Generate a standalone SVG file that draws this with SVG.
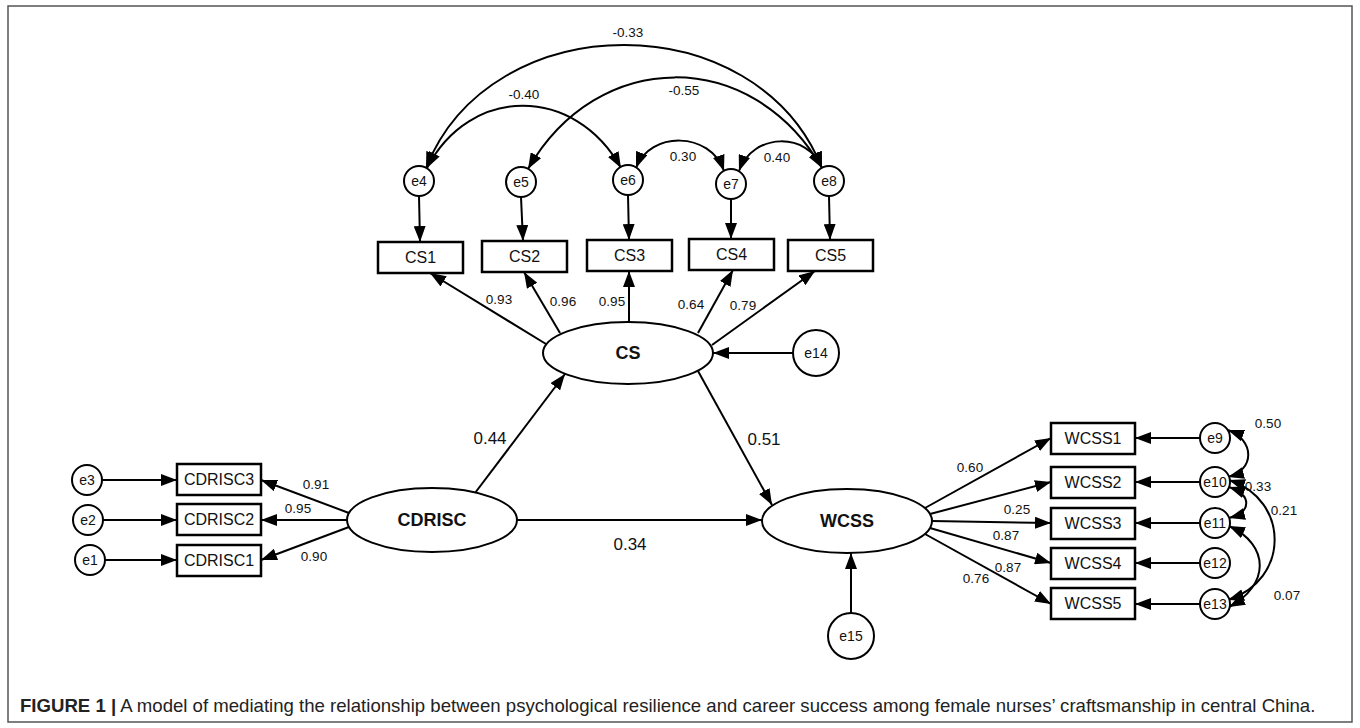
<svg xmlns="http://www.w3.org/2000/svg" width="1360" height="728" viewBox="0 0 1360 728">
<defs>
<marker id="ah" markerUnits="userSpaceOnUse" markerWidth="16" markerHeight="12" viewBox="0 0 16 12" refX="16" refY="6" orient="auto-start-reverse">
<path d="M0,0 L16,6 L0,12 z" fill="#000"/>
</marker>
<style>
.ar{fill:none;stroke:#000;stroke-width:2;marker-end:url(#ah)}
.cv{fill:none;stroke:#000;stroke-width:2;marker-start:url(#ah);marker-end:url(#ah)}
.bx{fill:#fff;stroke:#000;stroke-width:2.5}
.ci{fill:#fff;stroke:#000;stroke-width:2}
.t{font-family:"Liberation Sans",Arial,sans-serif;font-size:16px;text-anchor:middle;fill:#111}
.tl{font-family:"Liberation Sans",Arial,sans-serif;font-size:13.5px;text-anchor:middle;fill:#111}
.te{font-family:"Liberation Sans",Arial,sans-serif;font-size:14px;text-anchor:middle;fill:#111}
.tb{font-family:"Liberation Sans",Arial,sans-serif;font-size:18px;font-weight:bold;text-anchor:middle;fill:#111}
.tp{font-family:"Liberation Sans",Arial,sans-serif;font-size:17px;text-anchor:middle;fill:#111}
</style>
</defs>
<rect x="8" y="6" width="1344" height="716" fill="none" stroke="#555" stroke-width="1.5"/>

<g id="connectors">
<path class="cv" d="M426,168 C491,4 757,4 822,168"/>
<path class="cv" d="M427,168 C470,85 575,85 621,168"/>
<path class="cv" d="M528,169 C598,47 752,47 822,168"/>
<path class="cv" d="M636,168 C650,131 710,131 724,171"/>
<path class="cv" d="M739,171 C753,132 808,132 822,168"/>
<line class="ar" x1="419" y1="196" x2="420" y2="242"/>
<line class="ar" x1="521" y1="197" x2="523" y2="241"/>
<line class="ar" x1="628" y1="195" x2="629" y2="240"/>
<line class="ar" x1="731" y1="199" x2="731" y2="239"/>
<line class="ar" x1="829" y1="196" x2="830" y2="240"/>
<line class="ar" x1="546" y1="344" x2="430" y2="273"/>
<line class="ar" x1="560" y1="333" x2="524" y2="272"/>
<line class="ar" x1="629" y1="322" x2="629" y2="271"/>
<line class="ar" x1="698" y1="333" x2="733" y2="270"/>
<line class="ar" x1="712" y1="345" x2="815" y2="271"/>
<line class="ar" x1="793" y1="353" x2="713" y2="353"/>
<line class="ar" x1="102" y1="480" x2="177" y2="480"/>
<line class="ar" x1="103" y1="520" x2="177" y2="520"/>
<line class="ar" x1="105" y1="560" x2="177" y2="560"/>
<line class="ar" x1="349" y1="513" x2="261" y2="480"/>
<line class="ar" x1="347" y1="520" x2="261" y2="520"/>
<line class="ar" x1="349" y1="527" x2="261" y2="560"/>
<line class="ar" x1="475" y1="493" x2="565" y2="374"/>
<line class="ar" x1="517" y1="520" x2="762" y2="520"/>
<line class="ar" x1="698" y1="371" x2="772" y2="505"/>
<line class="ar" x1="851" y1="613" x2="851" y2="553"/>
<line class="ar" x1="925" y1="508" x2="1051" y2="438"/>
<line class="ar" x1="930" y1="514" x2="1051" y2="482"/>
<line class="ar" x1="932" y1="521" x2="1051" y2="523"/>
<line class="ar" x1="930" y1="528" x2="1051" y2="563"/>
<line class="ar" x1="925" y1="534" x2="1051" y2="604"/>
<line class="ar" x1="1200" y1="438" x2="1135" y2="438"/>
<line class="ar" x1="1200" y1="482" x2="1135" y2="482"/>
<line class="ar" x1="1200" y1="523" x2="1135" y2="523"/>
<line class="ar" x1="1200" y1="563" x2="1135" y2="563"/>
<line class="ar" x1="1200" y1="604" x2="1135" y2="604"/>
<path class="cv" d="M1228,430 C1255,440 1255,470 1228,477"/>
<path class="cv" d="M1229,487 C1252,495 1252,512 1229,518"/>
<path class="cv" d="M1229,480 C1290,500 1290,580 1228,600"/>
<path class="cv" d="M1229,526 C1270,545 1270,585 1229,607"/>
<text class="tl" x="628" y="37">-0.33</text>
<text class="tl" x="524" y="99">-0.40</text>
<text class="tl" x="684" y="95">-0.55</text>
<text class="tl" x="683" y="161">0.30</text>
<text class="tl" x="777" y="162">0.40</text>
<text class="tl" x="499" y="304">0.93</text>
<text class="tl" x="563" y="306">0.96</text>
<text class="tl" x="612" y="306">0.95</text>
<text class="tl" x="691" y="309">0.64</text>
<text class="tl" x="743" y="310">0.79</text>
<text class="tl" x="316" y="489">0.91</text>
<text class="tl" x="298" y="513">0.95</text>
<text class="tl" x="314" y="561">0.90</text>
<text class="tp" x="490" y="444">0.44</text>
<text class="tp" x="764" y="445">0.51</text>
<text class="tp" x="630" y="550">0.34</text>
<text class="tl" x="970" y="472">0.60</text>
<text class="tl" x="1017" y="514">0.25</text>
<text class="tl" x="1006" y="540">0.87</text>
<text class="tl" x="1008" y="572">0.87</text>
<text class="tl" x="976" y="583">0.76</text>
<text class="tl" x="1268" y="428">0.50</text>
<text class="tl" x="1258" y="491">0.33</text>
<text class="tl" x="1284" y="515">0.21</text>
<text class="tl" x="1287" y="600">0.07</text>
</g>

<g id="e4"><circle class="ci" cx="419" cy="181" r="15"/><text class="te" x="419" y="186">e4</text></g>
<g id="e5"><circle class="ci" cx="521" cy="182" r="15"/><text class="te" x="521" y="187">e5</text></g>
<g id="e6"><circle class="ci" cx="628" cy="180" r="15"/><text class="te" x="628" y="185">e6</text></g>
<g id="e7"><circle class="ci" cx="731" cy="184" r="15"/><text class="te" x="731" y="189">e7</text></g>
<g id="e8"><circle class="ci" cx="829" cy="181" r="15"/><text class="te" x="829" y="186">e8</text></g>

<g id="CS1"><rect class="bx" x="378" y="242" width="85" height="31"/><text class="t" x="420.5" y="263">CS1</text></g>
<g id="CS2"><rect class="bx" x="482" y="241" width="85" height="31"/><text class="t" x="524.5" y="262">CS2</text></g>
<g id="CS3"><rect class="bx" x="587" y="240" width="85" height="31"/><text class="t" x="629.5" y="261">CS3</text></g>
<g id="CS4"><rect class="bx" x="689" y="239" width="85" height="31"/><text class="t" x="731.5" y="260">CS4</text></g>
<g id="CS5"><rect class="bx" x="788" y="240" width="85" height="31"/><text class="t" x="830.5" y="261">CS5</text></g>

<g id="CS"><ellipse class="ci" cx="628" cy="353" rx="85" ry="31"/><text class="tb" x="628" y="359">CS</text></g>
<g id="e14"><circle class="ci" cx="816" cy="353" r="23"/><text class="te" x="816" y="358">e14</text></g>

<g id="e3"><circle class="ci" cx="87" cy="480" r="15"/><text class="te" x="87" y="485">e3</text></g>
<g id="e2"><circle class="ci" cx="88" cy="520" r="15"/><text class="te" x="88" y="525">e2</text></g>
<g id="e1"><circle class="ci" cx="90" cy="560" r="15"/><text class="te" x="90" y="565">e1</text></g>
<g id="CDRISC3"><rect class="bx" x="177" y="464" width="84" height="31"/><text class="t" x="219" y="485">CDRISC3</text></g>
<g id="CDRISC2"><rect class="bx" x="177" y="504" width="84" height="31"/><text class="t" x="219" y="525">CDRISC2</text></g>
<g id="CDRISC1"><rect class="bx" x="177" y="545" width="84" height="31"/><text class="t" x="219" y="566">CDRISC1</text></g>
<g id="CDRISC"><ellipse class="ci" cx="432" cy="520" rx="85" ry="32"/><text class="tb" x="432" y="526">CDRISC</text></g>

<g id="WCSS"><ellipse class="ci" cx="847" cy="521" rx="85" ry="32"/><text class="tb" x="847" y="527">WCSS</text></g>
<g id="e15"><circle class="ci" cx="851" cy="636" r="23"/><text class="te" x="851" y="641">e15</text></g>

<g id="WCSS1"><rect class="bx" x="1051" y="423" width="84" height="31"/><text class="t" x="1093" y="444">WCSS1</text></g>
<g id="WCSS2"><rect class="bx" x="1051" y="467" width="84" height="31"/><text class="t" x="1093" y="488">WCSS2</text></g>
<g id="WCSS3"><rect class="bx" x="1051" y="508" width="84" height="31"/><text class="t" x="1093" y="529">WCSS3</text></g>
<g id="WCSS4"><rect class="bx" x="1051" y="548" width="84" height="31"/><text class="t" x="1093" y="569">WCSS4</text></g>
<g id="WCSS5"><rect class="bx" x="1051" y="588" width="84" height="31"/><text class="t" x="1093" y="609">WCSS5</text></g>

<g id="e9"><circle class="ci" cx="1215" cy="438" r="15"/><text class="te" x="1215" y="443">e9</text></g>
<g id="e10"><circle class="ci" cx="1215" cy="482" r="15"/><text class="te" x="1215" y="487">e10</text></g>
<g id="e11"><circle class="ci" cx="1215" cy="523" r="15"/><text class="te" x="1215" y="528">e11</text></g>
<g id="e12"><circle class="ci" cx="1215" cy="563" r="15"/><text class="te" x="1215" y="568">e12</text></g>
<g id="e13"><circle class="ci" cx="1215" cy="604" r="15"/><text class="te" x="1215" y="609">e13</text></g>

<g id="caption"><text x="20" y="712" style="font-family:'Liberation Sans',Arial,sans-serif;font-size:18.6px;fill:#222"><tspan font-weight="bold">FIGURE 1 |</tspan> A model of mediating the relationship between psychological resilience and career success among female nurses’ craftsmanship in central China.</text></g>
</svg>
